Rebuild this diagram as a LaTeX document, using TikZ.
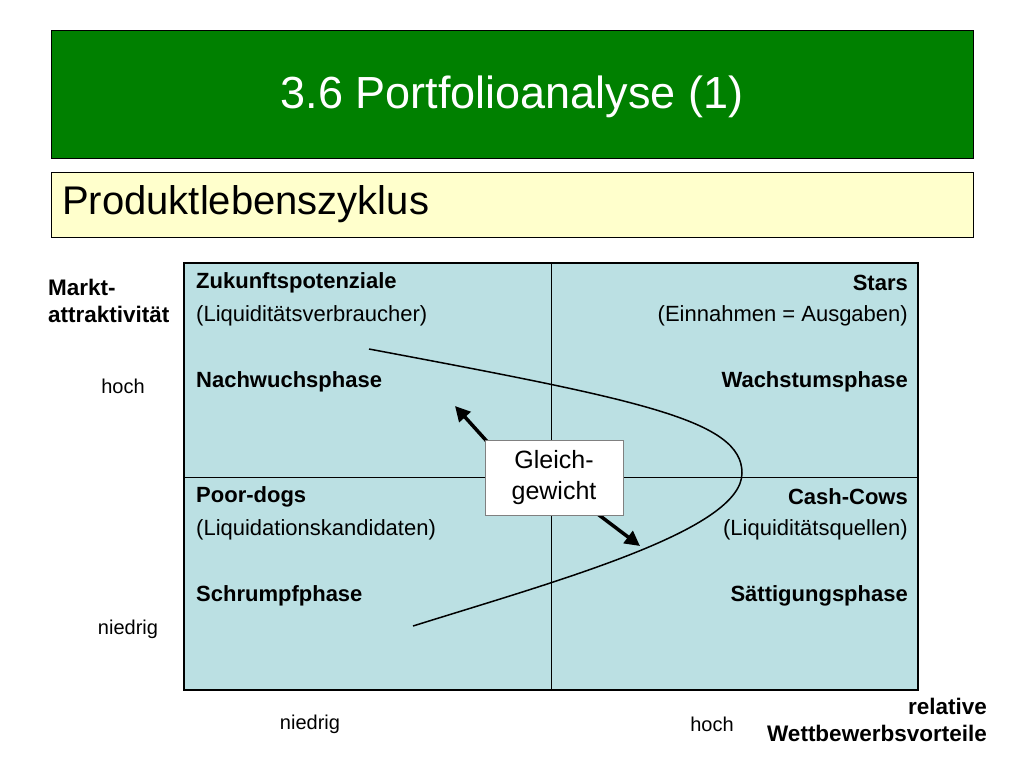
\documentclass[tikz,border=0pt]{standalone}
\usepackage{fontspec}
\setmainfont{Liberation Sans}
\usetikzlibrary{arrows.meta}
\definecolor{tgreen}{RGB}{0,128,0}
\definecolor{tyellow}{RGB}{255,255,204}
\definecolor{tblue}{RGB}{187,224,227}
\begin{document}
\begin{tikzpicture}[x=1pt,y=-1pt,
  lab/.style={font=\fontsize{22}{24}\selectfont,inner sep=0pt},
  blab/.style={lab,font=\fontsize{22}{24}\selectfont\bfseries},
  ax/.style={font=\fontsize{20}{23}\selectfont,inner sep=0pt},
  bax/.style={font=\fontsize{22.5}{27}\selectfont\bfseries,inner sep=0pt},
  arr/.style={line width=3.5pt,-{Triangle[length=15pt,width=15pt]}}]
\useasboundingbox (0,0) rectangle (1024,768);
\node[draw=black,fill=tgreen,minimum width=922pt,minimum height=128pt,anchor=north west,inner sep=0pt] (title) at (51,30) {};
\node[text=white,font=\fontsize{45}{50}\selectfont] (tt) at (512,97) {3.6 Portfolioanalyse (1)};
\node[draw=black,fill=tyellow,minimum width=922pt,minimum height=65pt,anchor=north west,inner sep=0pt] (sub) at (51,172) {};
\node[anchor=west,font=\fontsize{40}{44}\selectfont,inner sep=0pt] (st) at (62,204) {Produktlebenszyklus};
\fill[tblue] (184,263) rectangle (918,690);
\draw[line width=0.8pt] (551,263) -- (551,690) (184,477) -- (918,477);
\draw[line width=2.5pt] (184,263) rectangle (918,690);
\node[blab,anchor=west] (z1) at (196,283) {Zukunftspotenziale};
\node[lab,anchor=west] (z2) at (196,316) {(Liquiditätsverbraucher)};
\node[blab,anchor=west] (z3) at (196,382) {Nachwuchsphase};
\node[blab,anchor=east] (s1) at (908,283) {Stars};
\node[lab,anchor=east] (s2) at (908,316) {(Einnahmen = Ausgaben)};
\node[blab,anchor=east] (s3) at (908,382) {Wachstumsphase};
\node[blab,anchor=west] (p1) at (196,497) {Poor-dogs};
\node[lab,anchor=west] (p2) at (196,530) {(Liquidationskandidaten)};
\node[blab,anchor=west] (p3) at (196,596) {Schrumpfphase};
\node[blab,anchor=east] (c1) at (908,497) {Cash-Cows};
\node[lab,anchor=east] (c2) at (908,530) {(Liquiditätsquellen)};
\node[blab,anchor=east] (c3) at (908,596) {Sättigungsphase};
\coordinate (ca) at (369,349);
\coordinate (cv) at (742,473);
\coordinate (cb) at (413,626);
\draw[line width=1.5pt] (ca) .. controls (640,400) and (742,420) .. (cv) .. controls (742,530) and (560,580) .. (cb);
\coordinate (a1) at (455,406);
\coordinate (a2) at (640,546);
\draw[arr] (492,447) -- (a1);
\draw[arr] (595,512) -- (a2);
\node[draw=gray,fill=white,minimum width=138pt,minimum height=75pt,align=center,font=\fontsize{25}{31}\selectfont] (g) at (554,478) {Gleich-\\gewicht};
\node[bax,align=left,anchor=north west] (ma) at (48,279) {Markt-\\attraktivität};
\node[ax] (h1) at (123,386) {hoch};
\node[ax] (n1) at (128,629) {niedrig};
\node[ax] (n2) at (310,724) {niedrig};
\node[ax] (h2) at (712,724) {hoch};
\node[bax,align=right,anchor=north east] (rw) at (987,698) {relative\\Wettbewerbsvorteile};
\end{tikzpicture}
\end{document}
